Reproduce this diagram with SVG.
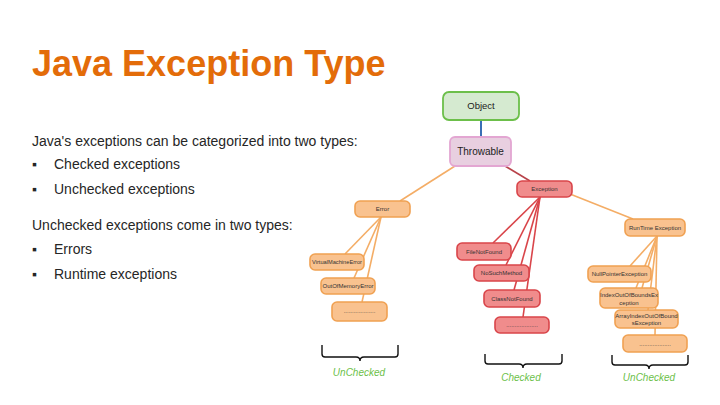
<svg xmlns="http://www.w3.org/2000/svg" width="720" height="405" viewBox="0 0 720 405">
<style>
text{font-family:"Liberation Sans",Arial,sans-serif}
.title{font-size:36px;font-weight:bold;fill:#e36c09}
.body{font-size:14px;fill:#262626}
.org rect{fill:#f9c28f;stroke:#f0a152;stroke-width:1.6}
.red rect{fill:#f08c8c;stroke:#d9454a;stroke-width:1.6}
.nt{font-size:6px;fill:#333;text-anchor:middle}
.ol{stroke:#f4ad66;stroke-width:1.6;fill:none}
.rl{stroke:#d9454a;stroke-width:1.6;fill:none}
.brace{stroke:#111;stroke-width:1.4;fill:none}
.lbl{font-size:10px;font-style:italic;fill:#6cbf4a;text-anchor:middle}
</style>
<rect width="720" height="405" fill="#fff"/>
<text class="title" x="32" y="76">Java Exception Type</text>
<g id="body-text">
<text class="body" x="32" y="146">Java's exceptions can be categorized into two types:</text>
<text class="body" x="32" y="169">▪</text><text class="body" x="54" y="169">Checked exceptions</text>
<text class="body" x="32" y="194">▪</text><text class="body" x="54" y="194">Unchecked exceptions</text>
<text class="body" x="32" y="230">Unchecked exceptions come in two types:</text>
<text class="body" x="32" y="254">▪</text><text class="body" x="54" y="254">Errors</text>
<text class="body" x="32" y="279">▪</text><text class="body" x="54" y="279">Runtime exceptions</text>
</g>
<g id="connectors">
<line x1="481" y1="120" x2="481" y2="137" stroke="#3a6fb5" stroke-width="2"/>
<line class="rl" x1="505" y1="166" x2="530" y2="181" style="stroke:#b8434a"/>
<line class="ol" x1="455" y1="166" x2="400" y2="201"/>
<line class="ol" x1="570" y1="194" x2="633" y2="219"/>
<line class="ol" x1="381" y1="217" x2="345" y2="254"/>
<line class="ol" x1="381" y1="217" x2="354" y2="278"/>
<line class="ol" x1="381" y1="217" x2="362" y2="302"/>
<line class="rl" x1="540" y1="197" x2="493" y2="243"/>
<line class="rl" x1="540" y1="197" x2="506" y2="265"/>
<line class="rl" x1="540" y1="197" x2="514" y2="290"/>
<line class="rl" x1="540" y1="197" x2="523" y2="317"/>
<line class="ol" x1="657" y1="236" x2="630" y2="266"/>
<line class="ol" x1="657" y1="236" x2="636" y2="288"/>
<line class="ol" x1="657" y1="236" x2="642" y2="288"/>
<line class="ol" x1="657" y1="236" x2="648" y2="310"/>
<line class="ol" x1="657" y1="236" x2="655" y2="335"/>
</g>
<g id="object"><rect x="443" y="92" width="76" height="28" rx="6" fill="#d5ead0" stroke="#6cbf4a" stroke-width="1.8"/><text x="481" y="109" font-size="9.5" text-anchor="middle" fill="#222">Object</text></g>
<g id="throwable"><rect x="450" y="137" width="61" height="29" rx="5" fill="#e8cfe0" stroke="#e3a6d2" stroke-width="1.8"/><text x="480.5" y="155" font-size="10" text-anchor="middle" fill="#222">Throwable</text></g>
<g id="exception" class="red"><rect x="517" y="181" width="55" height="16" rx="5"/><text class="nt" x="544.5" y="191">Exception</text></g>
<g id="error" class="org"><rect x="355" y="201" width="55" height="16" rx="5"/><text class="nt" x="382.5" y="211">Error</text></g>
<g id="vme" class="org"><rect x="310" y="254" width="54" height="16" rx="5"/><text class="nt" x="337" y="264" textLength="50" lengthAdjust="spacingAndGlyphs">VirtualMachineError</text></g>
<g id="oom" class="org"><rect x="321" y="278" width="54" height="16" rx="5"/><text class="nt" x="348" y="288">OutOfMemoryError</text></g>
<g id="err-more" class="org"><rect x="332" y="302" width="55" height="19" rx="5"/><text class="nt" x="359.5" y="313">...................</text></g>
<g id="fnf" class="red"><rect x="457" y="243" width="54" height="17" rx="5"/><text class="nt" x="484" y="254">FileNotFound</text></g>
<g id="nsm" class="red"><rect x="474" y="265" width="55" height="16" rx="5"/><text class="nt" x="501.5" y="275">NoSuchMethod</text></g>
<g id="cnf" class="red"><rect x="484" y="290" width="56" height="17" rx="5"/><text class="nt" x="512" y="301">ClassNotFound</text></g>
<g id="exc-more" class="red"><rect x="495" y="317" width="54" height="16" rx="5"/><text class="nt" x="522" y="327">...................</text></g>
<g id="rte" class="org"><rect x="625" y="219" width="60" height="17" rx="5"/><text class="nt" x="655" y="230">RunTime Exception</text></g>
<g id="npe" class="org"><rect x="588" y="266" width="63" height="16" rx="5"/><text class="nt" x="619.5" y="276">NullPointerException</text></g>
<g id="ioobe" class="org"><rect x="600" y="288" width="58" height="20" rx="5"/><text class="nt" x="629" y="297">IndexOutOfBoundsEx</text><text class="nt" x="629" y="305">ception</text></g>
<g id="aioobe" class="org"><rect x="615" y="310" width="63" height="18" rx="5"/><text class="nt" x="646.5" y="318">ArrayIndexOutOfBound</text><text class="nt" x="646.5" y="325">sException</text></g>
<g id="rte-more" class="org"><rect x="623" y="335" width="64" height="17" rx="5"/><text class="nt" x="655" y="346">...................</text></g>
<g id="brace-unchecked-1"><path class="brace" d="M322,345 V354 q0,3 3,3 H356 q4,0 4,4 q0,-4 4,-4 H395 q3,0 3,-3 V345"/><text class="lbl" x="359" y="376">UnChecked</text></g>
<g id="brace-checked"><path class="brace" d="M485,354 V361 q0,3 3,3 H519 q4,0 4,4 q0,-4 4,-4 H559 q3,0 3,-3 V354"/><text class="lbl" x="521" y="381">Checked</text></g>
<g id="brace-unchecked-2"><path class="brace" d="M612,355 V362 q0,3 3,3 H645 q4,0 4,4 q0,-4 4,-4 H685 q3,0 3,-3 V355"/><text class="lbl" x="649" y="381">UnChecked</text></g>
</svg>
